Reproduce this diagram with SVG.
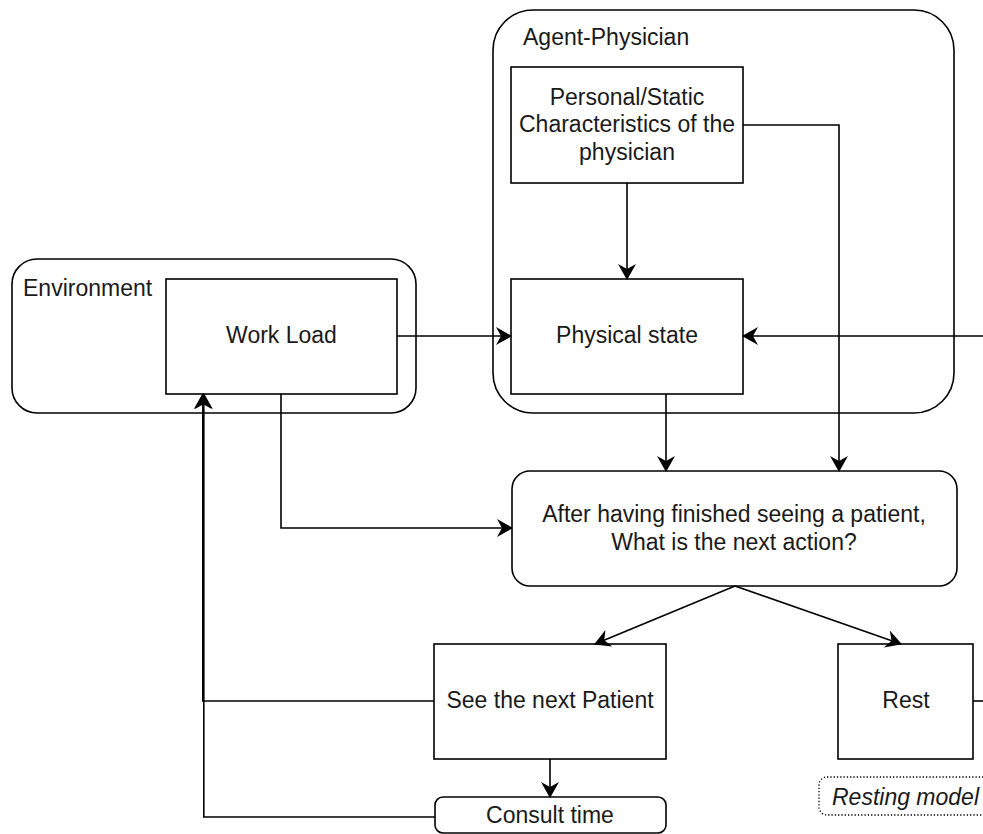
<svg xmlns="http://www.w3.org/2000/svg" width="983" height="834" viewBox="0 0 983 834">
<style>
  .box{fill:#fff;stroke:#000;stroke-width:1.6}
  .cont{fill:none;stroke:#000;stroke-width:1.6}
  .t{font-family:"Liberation Sans",Arial,sans-serif;font-size:23px;fill:#1a1a1a}
  .c{text-anchor:middle}
  .e{fill:none;stroke:#000;stroke-width:1.6}
</style>
<defs>
  <marker id="ar" viewBox="0 0 16 18" refX="15" refY="9" markerWidth="16" markerHeight="18" markerUnits="userSpaceOnUse" orient="auto">
    <path d="M0,0 L16,9 L0,18 L5,9 Z" fill="#000"/>
  </marker>
</defs>
<rect width="983" height="834" fill="#fff"/>

<g id="agent-physician">
  <rect class="cont" x="493" y="10" width="461" height="403" rx="40"/>
  <text class="t" x="523" y="45">Agent-Physician</text>
</g>
<g id="environment">
  <rect class="cont" x="12" y="259" width="404" height="154" rx="25"/>
  <text class="t" x="23" y="296">Environment</text>
</g>
<g id="personal">
  <rect class="box" x="511" y="67" width="232" height="116"/>
  <text class="t c" x="627" y="105">Personal/Static</text>
  <text class="t c" x="627" y="132">Characteristics of the</text>
  <text class="t c" x="627" y="160">physician</text>
</g>
<g id="physical-state">
  <rect class="box" x="511" y="279" width="232" height="115"/>
  <text class="t c" x="627" y="343">Physical state</text>
</g>
<g id="work-load">
  <rect class="box" x="166" y="279" width="231" height="115"/>
  <text class="t c" x="281.5" y="343">Work Load</text>
</g>
<g id="decision">
  <rect class="box" x="512" y="471" width="445" height="115" rx="18"/>
  <text class="t c" x="734" y="522">After having finished seeing a patient,</text>
  <text class="t c" x="734" y="550">What is the next action?</text>
</g>
<g id="see-next">
  <rect class="box" x="434" y="644" width="232" height="115"/>
  <text class="t c" x="550" y="708">See the next Patient</text>
</g>
<g id="consult-time">
  <rect class="box" x="435" y="797" width="231" height="36" rx="8"/>
  <text class="t c" x="550" y="823">Consult time</text>
</g>
<g id="rest">
  <rect class="box" x="838" y="644" width="135" height="115"/>
  <text class="t c" x="906" y="708">Rest</text>
</g>
<g id="resting-model">
  <rect x="819" y="777" width="200" height="38" rx="8" fill="none" stroke="#000" stroke-width="1.3" stroke-dasharray="1.3 2"/>
  <text class="t" x="832" y="805" font-style="italic">Resting model</text>
</g>

<g id="connectors">
  <path class="e" d="M397,336 H511" marker-end="url(#ar)"/>
  <path class="e" d="M983,336 H743" marker-end="url(#ar)"/>
  <path class="e" d="M627,183 V279" marker-end="url(#ar)"/>
  <path class="e" d="M743,125 H839 V471" marker-end="url(#ar)"/>
  <path class="e" d="M666,394 V471" marker-end="url(#ar)"/>
  <path class="e" d="M281,394 V528 H512" marker-end="url(#ar)"/>
  <path class="e" d="M735,586 L595,644" marker-end="url(#ar)"/>
  <path class="e" d="M735,586 L901,644" marker-end="url(#ar)"/>
  <path class="e" d="M434,701 H202.8 V394" marker-end="url(#ar)"/>
  <path class="e" d="M435,817 H203.8 V394" marker-end="url(#ar)"/>
  <path class="e" d="M550,759 V797" marker-end="url(#ar)"/>
  <path class="e" d="M973,701 H983"/>
</g>
</svg>
